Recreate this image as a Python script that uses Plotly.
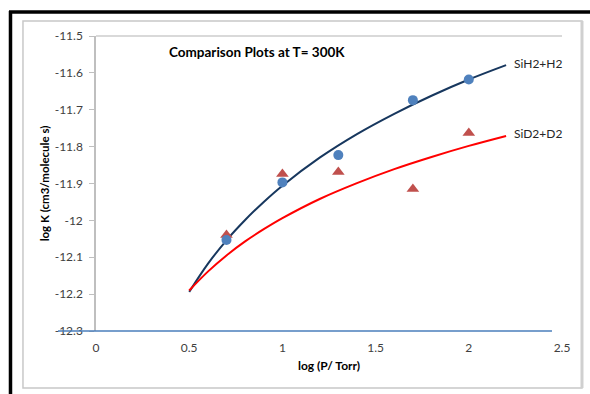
import plotly.graph_objects as go

# Measured rate constants
log_p_meas = [0.7, 1.0, 1.3, 1.7, 2.0]
sih2_meas = [-12.053, -11.897, -11.823, -11.674, -11.618]
sid2_meas = [-12.040, -11.874, -11.869, -11.915, -11.763]

# Model curves
log_p_fit = [0.5, 0.6, 0.7, 0.8, 0.9, 1.0, 1.2, 1.4, 1.6, 1.8, 2.0, 2.2]
sih2_fit = [-12.194, -12.118, -12.054, -11.999, -11.950, -11.906,
            -11.830, -11.766, -11.711, -11.662, -11.618, -11.579]
sid2_fit = [-12.190, -12.139, -12.095, -12.057, -12.024, -11.994,
            -11.942, -11.899, -11.861, -11.828, -11.798, -11.771]

series_names = ["SiH2+H2", "SiD2+D2"]
x_ticks = [0, 0.5, 1, 1.5, 2, 2.5]
x_tick_text = ["0", "0.5", "1", "1.5", "2", "2.5"]
y_ticks = [-12.3, -12.2, -12.1, -12.0, -11.9, -11.8, -11.7, -11.6, -11.5]
y_tick_text = ["-12.3", "-12.2", "-12.1", "-12", "-11.9", "-11.8", "-11.7", "-11.6", "-11.5"]

FONT = "Lato, 'Open Sans', sans-serif"
TXT = "#404040"

fig = go.Figure()
fig.add_trace(go.Scatter(x=log_p_fit, y=sih2_fit, mode="lines", line_shape="spline",
                         line=dict(color="#17375e", width=2), showlegend=False))
fig.add_trace(go.Scatter(x=log_p_fit, y=sid2_fit, mode="lines", line_shape="spline",
                         line=dict(color="#ff0000", width=2), showlegend=False))
fig.add_trace(go.Scatter(x=log_p_meas, y=sid2_meas, mode="markers",
                         marker=dict(symbol="triangle-up", size=11, color="#c0504d"),
                         showlegend=False))
fig.add_trace(go.Scatter(x=log_p_meas, y=sih2_meas, mode="markers",
                         marker=dict(symbol="circle", size=10, color="#4f81bd"),
                         showlegend=False))

# Series labels at the end of each curve
for name, ys in zip(series_names, [sih2_fit, sid2_fit]):
    fig.add_annotation(x=log_p_fit[-1], y=ys[-1], text=name, showarrow=False,
                       xanchor="left", xshift=6, yshift=2,
                       font=dict(family=FONT, size=12, color="#262626"))

fig.add_annotation(xref="paper", yref="paper", x=0.152, y=0.945, xanchor="left",
                   yanchor="middle", showarrow=False,
                   text="<b>Comparison Plots at T= 300K</b>",
                   font=dict(family=FONT, size=13.5, color="#000000"))

shapes = [
    # outer chart frame
    dict(type="rect", xref="paper", yref="paper", x0=-0.1567, x1=1.0429,
         y0=-0.1932, y1=1.0508, line=dict(color="#c8c8c8", width=1.5)),
    dict(type="line", xref="paper", yref="paper", x0=1.0429, x1=1.0429,
         y0=-0.1932, y1=1.0508, line=dict(color="#d0d0d0", width=3)),
    # heavy black edges
    dict(type="line", xref="paper", yref="paper", x0=-0.1835, x1=-0.1835,
         y0=-0.25, y1=1.0847, line=dict(color="#000000", width=3.5)),
    dict(type="line", xref="paper", yref="paper", x0=-0.1867, x1=1.1,
         y0=1.0813, y1=1.0813, line=dict(color="#000000", width=3.5)),
    # plot top border
    dict(type="line", xref="paper", yref="paper", x0=0, x1=1, y0=1, y1=1,
         line=dict(color="#d9d9d9", width=2)),
    # horizontal axis line
    dict(type="line", xref="paper", yref="paper", x0=-0.0815, x1=0.9785, y0=0, y1=0,
         line=dict(color="#4a7ebb", width=1.3)),
]
fig.update_layout(shapes=shapes)

fig.update_xaxes(range=[0, 2.5], tickvals=x_ticks, ticktext=x_tick_text,
                 showgrid=False, zeroline=False, showline=False, ticks="",
                 ticklabelstandoff=8,
                 tickfont=dict(family=FONT, size=12, color=TXT),
                 title=dict(text="<b>log (P/ Torr)</b>", standoff=7,
                            font=dict(family=FONT, size=12, color="#000000")))
fig.update_yaxes(range=[-12.3, -11.5], tickvals=y_ticks, ticktext=y_tick_text,
                 showgrid=False, zeroline=False, showline=True,
                 linecolor="#bfbfbf", linewidth=1.5,
                 ticks="outside", ticklen=5, tickcolor="#bfbfbf", tickwidth=1,
                 ticklabelstandoff=4,
                 tickfont=dict(family=FONT, size=12, color=TXT),
                 title=dict(text="<b>log K (cm3/molecule s)</b>", standoff=3,
                            font=dict(family=FONT, size=11.5, color="#000000")))

fig.update_layout(width=590, height=394, margin=dict(l=96, r=28, t=36, b=63),
                  paper_bgcolor="white", plot_bgcolor="white",
                  font=dict(family=FONT))

fig.write_html("out.html")
